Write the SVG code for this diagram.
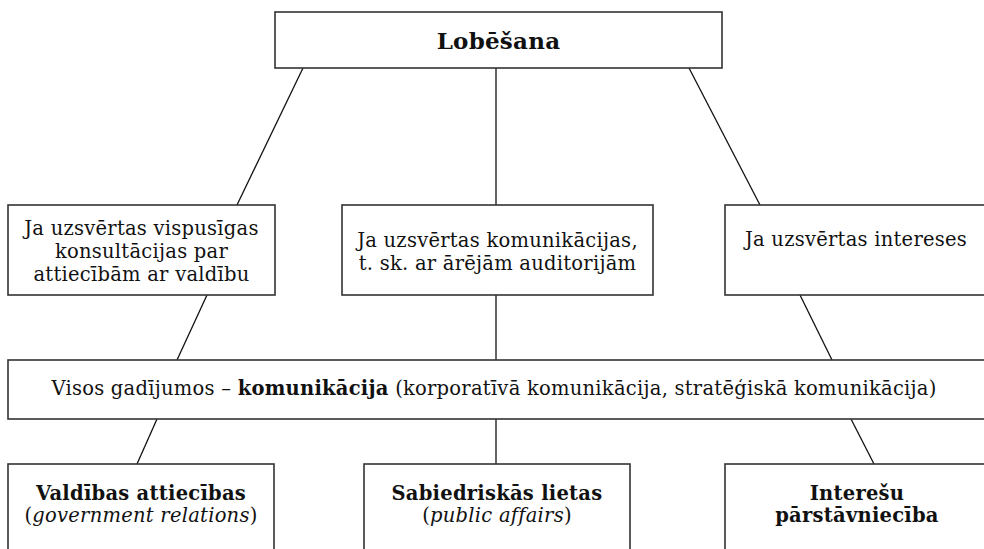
<svg xmlns="http://www.w3.org/2000/svg" width="984" height="549" viewBox="0 0 984 549">
<style>
.box{fill:#fff;stroke:#333;stroke-width:1.6}
.c{stroke:#111;stroke-width:1.3;fill:none}
text{font-family:"DejaVu Serif","Liberation Serif",serif;font-size:19.5px;fill:#111;text-anchor:middle;letter-spacing:0.25px}
.b{font-weight:bold}
.i{font-style:italic}
</style>
<rect width="984" height="549" fill="#fff"/>
<g id="connectors">
<line class="c" x1="303" y1="68" x2="237" y2="205"/>
<line class="c" x1="496" y1="68" x2="496" y2="205"/>
<line class="c" x1="689" y1="68" x2="760" y2="205"/>
<line class="c" x1="207" y1="295" x2="177" y2="360"/>
<line class="c" x1="496" y1="295" x2="496" y2="360"/>
<line class="c" x1="800" y1="295" x2="832" y2="360"/>
<line class="c" x1="157" y1="419" x2="137" y2="464"/>
<line class="c" x1="496" y1="419" x2="496" y2="464"/>
<line class="c" x1="851" y1="419" x2="874" y2="464"/>
</g>
<g id="lobesana">
<rect class="box" x="275" y="12" width="447" height="56"/>
<text class="b" x="498.5" y="49" style="font-size:23px">Lobēšana</text>
</g>
<g id="konsultacijas">
<rect class="box" x="8" y="205" width="267" height="90"/>
<text x="141.5" y="235">Ja uzsvērtas vispusīgas</text>
<text x="141.5" y="258">konsultācijas par</text>
<text x="141.5" y="281">attiecībām ar valdību</text>
</g>
<g id="komunikacijas">
<rect class="box" x="342" y="205" width="311" height="90"/>
<text x="497.5" y="247">Ja uzsvērtas komunikācijas,</text>
<text x="497.5" y="270">t. sk. ar ārējām auditorijām</text>
</g>
<g id="intereses">
<rect class="box" x="725" y="205" width="270" height="90"/>
<text x="856" y="246">Ja uzsvērtas intereses</text>
</g>
<g id="visos">
<rect class="box" x="8" y="360" width="990" height="59"/>
<text x="494" y="395">Visos gadījumos – <tspan class="b">komunikācija</tspan> (korporatīvā komunikācija, stratēģiskā komunikācija)</text>
</g>
<g id="valdibas">
<rect class="box" x="8" y="464" width="266" height="100"/>
<text class="b" x="141" y="500">Valdības attiecības</text>
<text x="141" y="522">(<tspan class="i">government relations</tspan>)</text>
</g>
<g id="sabiedriskas">
<rect class="box" x="364" y="464" width="266" height="100"/>
<text class="b" x="497" y="500">Sabiedriskās lietas</text>
<text x="497" y="522">(<tspan class="i">public affairs</tspan>)</text>
</g>
<g id="interesu">
<rect class="box" x="725" y="464" width="270" height="100"/>
<text class="b" x="857" y="500">Interešu</text>
<text class="b" x="857" y="522">pārstāvniecība</text>
</g>
</svg>
